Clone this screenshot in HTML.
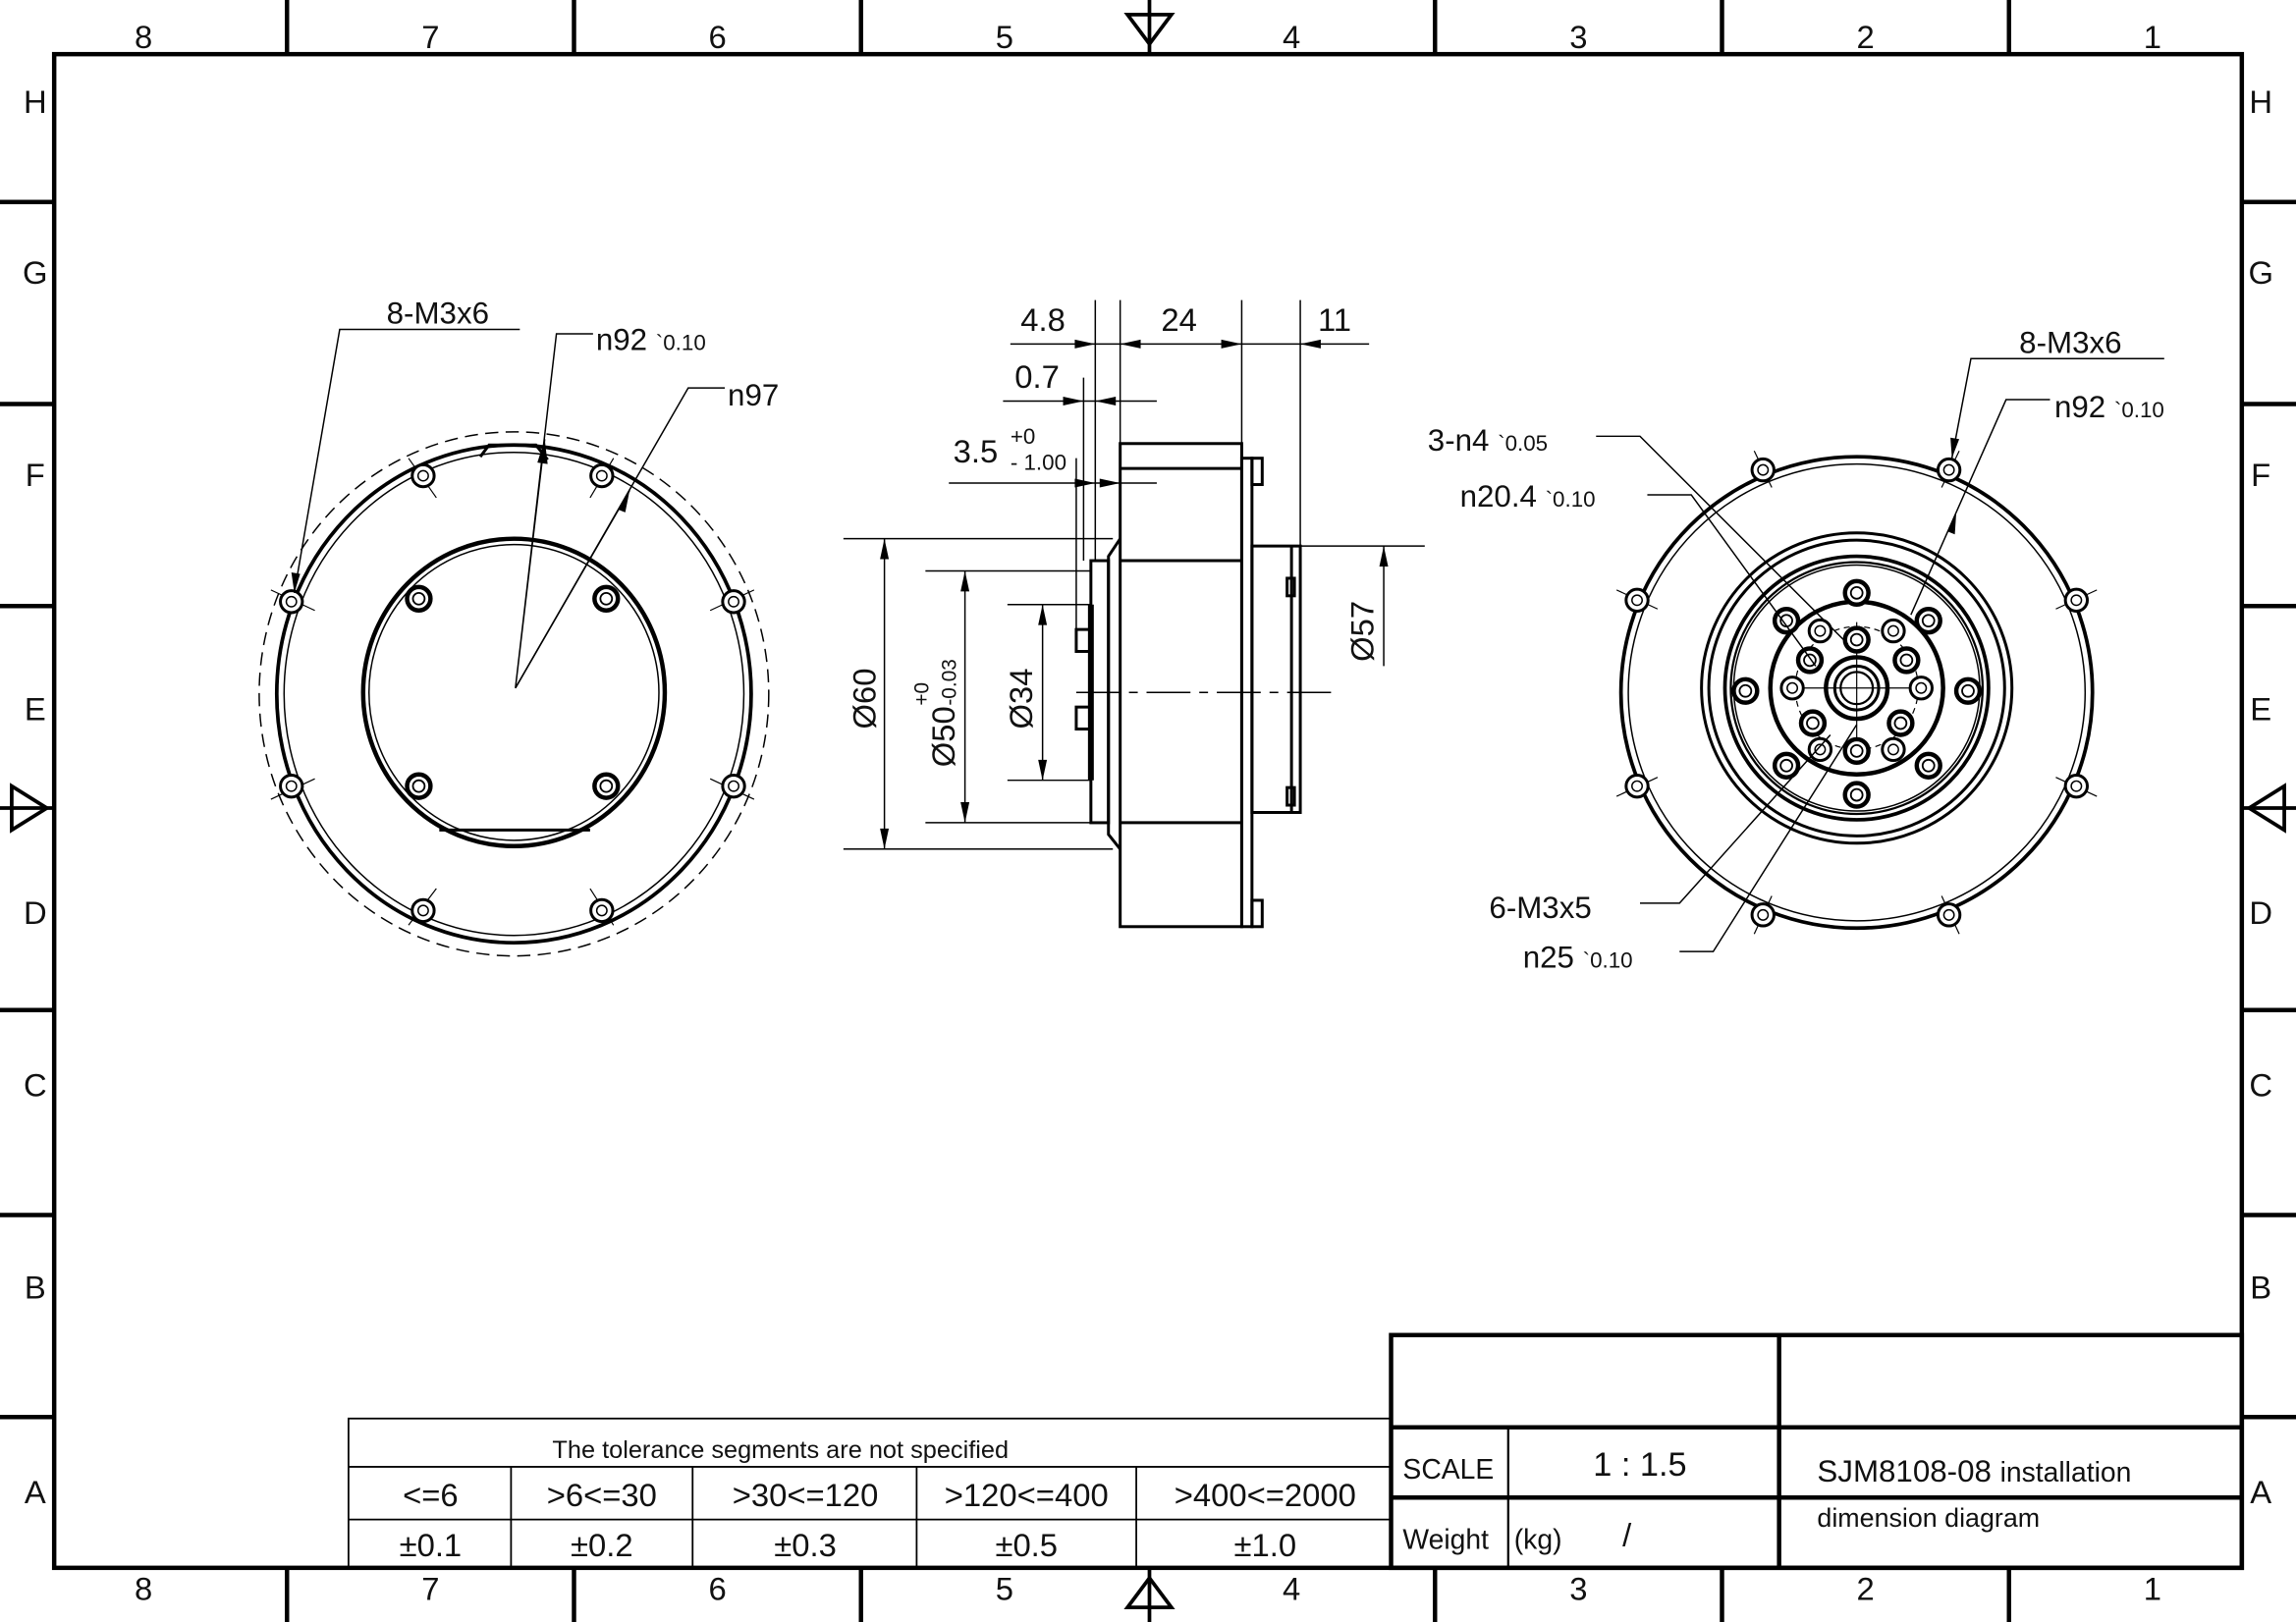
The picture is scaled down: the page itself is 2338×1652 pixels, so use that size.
<!DOCTYPE html>
<html><head><meta charset="utf-8"><style>
html,body{margin:0;padding:0;background:#fff;}
svg{display:block;}
text{font-family:"Liberation Sans",sans-serif;fill:#111;}
</style></head><body>
<svg width="2338" height="1652" viewBox="0 0 1568 1108" preserveAspectRatio="none" xmlns="http://www.w3.org/2000/svg">
<defs>
<g id="h"><circle r="7.5" fill="#fff" stroke="#000" stroke-width="2"/><circle r="3.5" fill="none" stroke="#000" stroke-width="1"/></g>
<g id="hb"><circle r="8" fill="#fff" stroke="#000" stroke-width="3"/><circle r="4" fill="none" stroke="#000" stroke-width="1.2"/></g>
</defs>
<rect width="1568" height="1108" fill="#fff"/>
<!-- frame -->
<rect x="37" y="37" width="1494" height="1034" fill="none" stroke="#000" stroke-width="3"/>
<g stroke="#000" stroke-width="3">
<line x1="196" y1="0" x2="196" y2="37"/><line x1="392" y1="0" x2="392" y2="37"/><line x1="588" y1="0" x2="588" y2="37"/><line x1="980" y1="0" x2="980" y2="37"/><line x1="1176" y1="0" x2="1176" y2="37"/><line x1="1372" y1="0" x2="1372" y2="37"/>
<line x1="196" y1="1071" x2="196" y2="1108"/><line x1="392" y1="1071" x2="392" y2="1108"/><line x1="588" y1="1071" x2="588" y2="1108"/><line x1="980" y1="1071" x2="980" y2="1108"/><line x1="1176" y1="1071" x2="1176" y2="1108"/><line x1="1372" y1="1071" x2="1372" y2="1108"/>
<line x1="0" y1="138" x2="37" y2="138"/><line x1="0" y1="276" x2="37" y2="276"/><line x1="0" y1="414" x2="37" y2="414"/><line x1="0" y1="690" x2="37" y2="690"/><line x1="0" y1="830" x2="37" y2="830"/><line x1="0" y1="968" x2="37" y2="968"/>
<line x1="1531" y1="138" x2="1568" y2="138"/><line x1="1531" y1="276" x2="1568" y2="276"/><line x1="1531" y1="414" x2="1568" y2="414"/><line x1="1531" y1="690" x2="1568" y2="690"/><line x1="1531" y1="830" x2="1568" y2="830"/><line x1="1531" y1="968" x2="1568" y2="968"/>
</g>
<g fill="none" stroke="#000" stroke-width="2.5">
<path d="M770 10 L800 10 L785 30 Z"/><line x1="785" y1="0" x2="785" y2="37"/>
<path d="M770 1098 L800 1098 L785 1078 Z"/><line x1="785" y1="1071" x2="785" y2="1108"/>
<path d="M8 537 L8 567 L32 552 Z"/><line x1="0" y1="552" x2="37" y2="552"/>
<path d="M1560 537 L1560 567 L1536 552 Z"/><line x1="1531" y1="552" x2="1568" y2="552"/>
</g>
<g font-size="22" text-anchor="middle">
<text x="98" y="33">8</text><text x="294" y="33">7</text><text x="490" y="33">6</text><text x="686" y="33">5</text><text x="882" y="33">4</text><text x="1078" y="33">3</text><text x="1274" y="33">2</text><text x="1470" y="33">1</text>
<text x="98" y="1093">8</text><text x="294" y="1093">7</text><text x="490" y="1093">6</text><text x="686" y="1093">5</text><text x="882" y="1093">4</text><text x="1078" y="1093">3</text><text x="1274" y="1093">2</text><text x="1470" y="1093">1</text>
<text x="24" y="77">H</text><text x="24" y="194">G</text><text x="24" y="332">F</text><text x="24" y="492">E</text><text x="24" y="631">D</text><text x="24" y="749">C</text><text x="24" y="887">B</text><text x="24" y="1027">A</text>
<text x="1544" y="77">H</text><text x="1544" y="194">G</text><text x="1544" y="332">F</text><text x="1544" y="492">E</text><text x="1544" y="631">D</text><text x="1544" y="749">C</text><text x="1544" y="887">B</text><text x="1544" y="1027">A</text>
</g>

<!-- LEFT VIEW -->
<g fill="none" stroke="#000">
<ellipse cx="351" cy="474" rx="174" ry="179" stroke-width="1" stroke-dasharray="9 5"/>
<ellipse cx="351" cy="474" rx="162" ry="170" stroke-width="2.5"/>
<ellipse cx="351" cy="474" rx="157" ry="165" stroke-width="1"/>
<path d="M328 312 L334 304 L366 304 L374 314" stroke-width="2"/>
<ellipse cx="351" cy="473" rx="103" ry="105" stroke-width="3"/>
<ellipse cx="351" cy="473" rx="99" ry="101" stroke-width="1"/>
<line x1="300" y1="567" x2="403" y2="567" stroke-width="2"/>
<g stroke-width="0.8">
<line x1="279" y1="313" x2="298" y2="340"/><line x1="419" y1="313" x2="403" y2="340"/>
<line x1="185" y1="403" x2="215" y2="417"/><line x1="515" y1="403" x2="485" y2="417"/>
<line x1="185" y1="546" x2="215" y2="532"/><line x1="515" y1="546" x2="485" y2="532"/>
<line x1="279" y1="632" x2="298" y2="607"/><line x1="419" y1="632" x2="403" y2="607"/>
</g>
</g>
<use href="#h" x="289" y="325"/><use href="#h" x="411" y="325"/><use href="#h" x="199" y="411"/><use href="#h" x="501" y="411"/>
<use href="#h" x="199" y="537"/><use href="#h" x="501" y="537"/><use href="#h" x="289" y="622"/><use href="#h" x="411" y="622"/>
<use href="#hb" x="286" y="409"/><use href="#hb" x="414" y="409"/><use href="#hb" x="286" y="537"/><use href="#hb" x="414" y="537"/>
<g stroke="#000" stroke-width="1" fill="none">
<polyline points="355,225 232,225 201,405"/>
<polyline points="405,228 380,228 352,470 372,300"/>
<polyline points="495,265 470,265 352,470"/>
<line x1="352" y1="470" x2="430" y2="335"/>
</g>
<g fill="#000"><path d="M201 405 L199 391 L205 392 Z"/><path d="M372 300 L367 316 L374 317 Z"/><path d="M430 335 L422 348 L427 350 Z"/></g>
<text x="264" y="221" font-size="21">8-M3x6</text>
<text x="407" y="239" font-size="21">n92 <tspan font-size="15">`0.10</tspan></text>
<text x="497" y="277" font-size="21">n97</text>

<!-- MIDDLE VIEW -->
<g fill="none" stroke="#000" stroke-width="2">
<rect x="765" y="303" width="83" height="330"/>
<line x1="765" y1="320" x2="848" y2="320"/>
<line x1="765" y1="383" x2="848" y2="383"/>
<line x1="765" y1="562" x2="848" y2="562"/>
<rect x="848" y="313" width="7" height="320"/>
<rect x="855" y="313" width="7" height="18"/><rect x="855" y="615" width="7" height="18"/>
<rect x="855" y="373" width="33" height="182"/>
<line x1="882" y1="373" x2="882" y2="555"/>
<rect x="879" y="395" width="5" height="12"/><rect x="879" y="538" width="5" height="12"/>
<path d="M765 368 L757 380 L757 570 L765 580"/>
<rect x="745" y="383" width="12" height="179"/>
<line x1="745" y1="413" x2="745" y2="533" stroke-width="4"/>
<rect x="735" y="430" width="10" height="15"/><rect x="735" y="483" width="10" height="15"/>
</g>
<line x1="735" y1="473" x2="915" y2="473" stroke="#000" stroke-width="1" stroke-dasharray="30 6 6 6"/>
<g stroke="#000" stroke-width="1" fill="none">
<line x1="748" y1="205" x2="748" y2="383"/><line x1="765" y1="205" x2="765" y2="303"/><line x1="848" y1="205" x2="848" y2="313"/><line x1="888" y1="205" x2="888" y2="373"/>
<line x1="690" y1="235" x2="935" y2="235"/>
<line x1="740" y1="258" x2="740" y2="383"/>
<line x1="685" y1="274" x2="790" y2="274"/>
<line x1="735" y1="313" x2="735" y2="430"/>
<line x1="648" y1="330" x2="790" y2="330"/>
<line x1="576" y1="368" x2="760" y2="368"/><line x1="576" y1="580" x2="760" y2="580"/>
<line x1="632" y1="390" x2="745" y2="390"/><line x1="632" y1="562" x2="745" y2="562"/>
<line x1="688" y1="413" x2="745" y2="413"/><line x1="688" y1="533" x2="745" y2="533"/>
<line x1="604" y1="368" x2="604" y2="580"/><line x1="659" y1="390" x2="659" y2="562"/><line x1="712" y1="413" x2="712" y2="533"/>
<line x1="888" y1="373" x2="973" y2="373"/><line x1="945" y1="373" x2="945" y2="455"/>
</g>
<g fill="#000">
<path d="M748 235 L734 232 L734 238Z"/><path d="M765 235 L779 232 L779 238Z"/><path d="M848 235 L834 232 L834 238Z"/><path d="M888 235 L902 232 L902 238Z"/>
<path d="M740 274 L726 271 L726 277Z"/><path d="M748 274 L762 271 L762 277Z"/>
<path d="M748 330 L734 327 L734 333Z"/><path d="M765 330 L751 327 L751 333Z"/>
<path d="M604 368 L601 382 L607 382Z"/><path d="M604 580 L601 566 L607 566Z"/>
<path d="M659 390 L656 404 L662 404Z"/><path d="M659 562 L656 548 L662 548Z"/>
<path d="M712 413 L709 427 L715 427Z"/><path d="M712 533 L709 519 L715 519Z"/>
<path d="M945 373 L942 387 L948 387Z"/>
</g>
<text x="697" y="226" font-size="22">4.8</text>
<text x="793" y="226" font-size="22">24</text>
<text x="900" y="226" font-size="22">11</text>
<text x="693" y="265" font-size="22">0.7</text>
<text x="651" y="316" font-size="22">3.5</text>
<text x="690" y="303" font-size="15">+0</text>
<text x="690" y="321" font-size="15">- 1.00</text>
<text transform="translate(598,498) rotate(-90)" font-size="22">Ø60</text>
<text transform="translate(652,524) rotate(-90)" font-size="22">Ø50</text>
<text transform="translate(634,482) rotate(-90)" font-size="14">+0</text>
<text transform="translate(653,482) rotate(-90)" font-size="14">-0.03</text>
<text transform="translate(705,498) rotate(-90)" font-size="22">Ø34</text>
<text transform="translate(938,452) rotate(-90)" font-size="22">Ø57</text>

<!-- RIGHT VIEW -->
<g fill="none" stroke="#000">
<circle cx="1268" cy="473" r="161" stroke-width="2.5"/>
<circle cx="1268" cy="473" r="156" stroke-width="1"/>
<circle cx="1268" cy="470" r="106" stroke-width="2"/>
<circle cx="1268" cy="470" r="101" stroke-width="2"/>
<circle cx="1268" cy="470" r="90" stroke-width="2.5"/>
<circle cx="1268" cy="470" r="86" stroke-width="1.5"/>
<circle cx="1268" cy="470" r="84" stroke-width="1"/>
<circle cx="1268" cy="470" r="59" stroke-width="3"/>
<circle cx="1268" cy="470" r="42" stroke-width="0.8" stroke-dasharray="4 3"/>
<circle cx="1268" cy="470" r="21" stroke-width="3"/>
<circle cx="1268" cy="470" r="15" stroke-width="2"/>
<circle cx="1268" cy="470" r="11" stroke-width="1.5"/>
<g stroke-width="0.8">
<line x1="1198" y1="308" x2="1210" y2="333"/><line x1="1338" y1="308" x2="1326" y2="333"/>
<line x1="1104" y1="403" x2="1132" y2="416"/><line x1="1432" y1="403" x2="1404" y2="416"/>
<line x1="1104" y1="544" x2="1132" y2="531"/><line x1="1432" y1="544" x2="1404" y2="531"/>
<line x1="1198" y1="638" x2="1210" y2="612"/><line x1="1338" y1="638" x2="1326" y2="612"/>
<line x1="1220" y1="470" x2="1316" y2="470"/><line x1="1268" y1="425" x2="1268" y2="515"/>
</g>
</g>
<use href="#h" x="1204" y="321"/><use href="#h" x="1331" y="321"/><use href="#h" x="1118" y="410"/><use href="#h" x="1418" y="410"/>
<use href="#h" x="1118" y="537"/><use href="#h" x="1418" y="537"/><use href="#h" x="1204" y="625"/><use href="#h" x="1331" y="625"/>
<use href="#hb" x="1268" y="405"/><use href="#hb" x="1268" y="543"/><use href="#hb" x="1192" y="472"/><use href="#hb" x="1344" y="472"/>
<use href="#hb" x="1220" y="424"/><use href="#hb" x="1317" y="424"/><use href="#hb" x="1220" y="523"/><use href="#hb" x="1317" y="523"/>
<use href="#hb" x="1268" y="437"/><use href="#hb" x="1268" y="513"/>
<use href="#hb" x="1236" y="451"/><use href="#hb" x="1302" y="451"/><use href="#hb" x="1238" y="494"/><use href="#hb" x="1298" y="494"/>
<use href="#h" x="1243" y="431"/><use href="#h" x="1293" y="431"/><use href="#h" x="1243" y="512"/><use href="#h" x="1293" y="512"/><use href="#h" x="1224" y="470"/><use href="#h" x="1312" y="470"/>
<g stroke="#000" stroke-width="1" fill="none">
<polyline points="1478,245 1346,245 1333,313"/>
<polyline points="1400,273 1370,273 1305,420"/>
<polyline points="1090,298 1120,298 1262,440"/>
<polyline points="1125,338 1155,338 1240,455"/>
<polyline points="1120,617 1147,617 1250,502"/>
<polyline points="1147,650 1170,650 1268,495"/>
</g>
<g fill="#000"><path d="M1333 313 L1332 299 L1338 300Z"/><path d="M1336 350 L1330 363 L1335 365Z"/></g>
<text x="1379" y="241" font-size="21">8-M3x6</text>
<text x="1403" y="285" font-size="21">n92 <tspan font-size="15">`0.10</tspan></text>
<text x="975" y="308" font-size="21">3-n4 <tspan font-size="15">`0.05</tspan></text>
<text x="997" y="346" font-size="21">n20.4 <tspan font-size="15">`0.10</tspan></text>
<text x="1017" y="627" font-size="21">6-M3x5</text>
<text x="1040" y="661" font-size="21">n25 <tspan font-size="15">`0.10</tspan></text>

<!-- TOLERANCE TABLE -->
<g fill="none" stroke="#000">
<rect x="238" y="969" width="712" height="102" stroke-width="1.2"/>
<line x1="238" y1="1002" x2="950" y2="1002" stroke-width="1.2"/>
<line x1="238" y1="1038" x2="950" y2="1038" stroke-width="1.2"/>
<line x1="349" y1="1002" x2="349" y2="1071" stroke-width="1.2"/>
<line x1="473" y1="1002" x2="473" y2="1071" stroke-width="1.2"/>
<line x1="626" y1="1002" x2="626" y2="1071" stroke-width="1.2"/>
<line x1="776" y1="1002" x2="776" y2="1071" stroke-width="1.2"/>
</g>
<text x="533" y="996" font-size="17" text-anchor="middle">The tolerance segments are not specified</text>
<g font-size="22" text-anchor="middle">
<text x="294" y="1029">&lt;=6</text><text x="411" y="1029">&gt;6&lt;=30</text><text x="550" y="1029">&gt;30&lt;=120</text><text x="701" y="1029">&gt;120&lt;=400</text><text x="864" y="1029">&gt;400&lt;=2000</text>
<text x="294" y="1063">±0.1</text><text x="411" y="1063">±0.2</text><text x="550" y="1063">±0.3</text><text x="701" y="1063">±0.5</text><text x="864" y="1063">±1.0</text>
</g>

<!-- TITLE BLOCK -->
<g fill="none" stroke="#000" stroke-width="3">
<rect x="950" y="912" width="581" height="159"/>
<line x1="950" y1="975" x2="1531" y2="975"/>
<line x1="950" y1="1023" x2="1531" y2="1023"/>
<line x1="1215" y1="912" x2="1215" y2="1071"/>
<line x1="1030" y1="975" x2="1030" y2="1071" stroke-width="1.5"/>
</g>
<text x="958" y="1010" font-size="19">SCALE</text>
<text x="1088" y="1008" font-size="23">1 : 1.5</text>
<text x="958" y="1058" font-size="19">Weight</text>
<text x="1034" y="1058" font-size="19">(kg)</text>
<text x="1108" y="1056" font-size="22">/</text>
<text x="1241" y="1012" font-size="21">SJM8108-08 <tspan font-size="19">installation</tspan></text>
<text x="1241" y="1043" font-size="18">dimension diagram</text>
</svg>
</body></html>
